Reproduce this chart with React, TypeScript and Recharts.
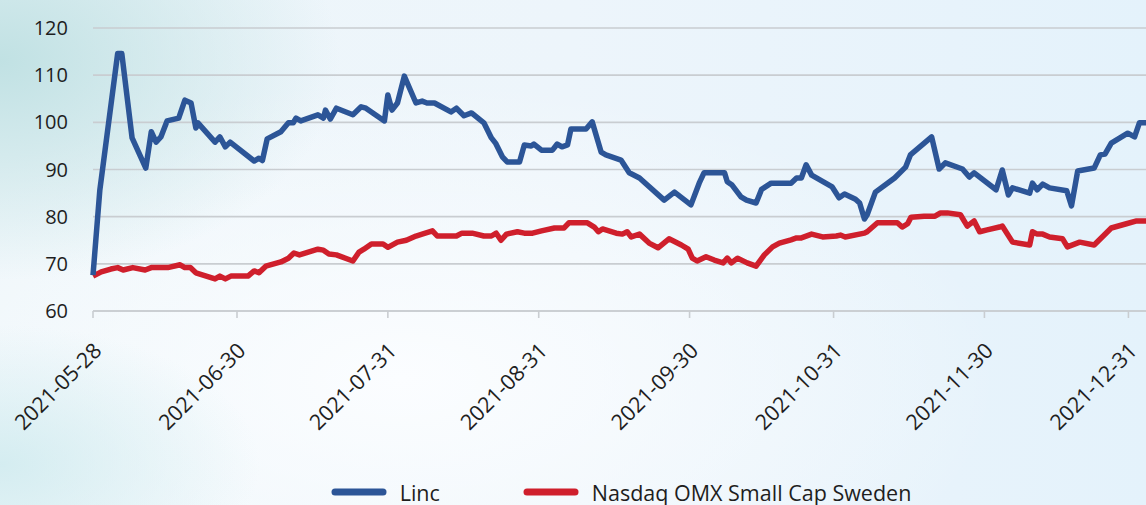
import { LineChart, Line, XAxis, YAxis, CartesianGrid, Legend } from 'recharts';

// x = trading session counted from 2021-05-28
const tickSessions = [0, 21, 43, 65, 87, 108, 130, 151];
const tickLabels = ['2021-05-28', '2021-06-30', '2021-07-31', '2021-08-31', '2021-09-30', '2021-10-31', '2021-11-30', '2021-12-31'];
const yTicks = [60, 70, 80, 90, 100, 110, 120];

const lincSessions = [
  0, 1.0, 3.6, 4.2, 5.7, 7.7, 8.5, 9.2, 9.9, 10.8, 12.5, 13.4, 14.3, 15.0, 15.3, 17.8, 18.5, 19.3, 20.0,
  23.5, 24.2, 24.7, 25.4, 27.4, 28.5, 29.2, 29.6, 30.3, 32.8, 33.6, 33.9, 34.6, 35.5, 37.9, 39.1, 39.8,
  42.5, 43.0, 43.6, 44.4, 45.4, 47.1, 48.0, 48.7, 49.8, 52.2, 53.0, 54.1, 55.2, 57.0, 58.1, 58.7, 59.7,
  60.4, 62.2, 62.9, 63.9, 64.3, 65.4, 67.0, 67.7, 68.4, 69.2, 69.7, 71.9, 72.8, 74.1, 74.8, 77.0, 78.2,
  79.7, 83.3, 84.8, 87.2, 88.4, 89.1, 92.1, 92.5, 93.2, 94.5, 95.3, 96.7, 97.5, 98.9, 101.8, 102.6, 103.3,
  104.0, 104.8, 107.8, 108.8, 109.6, 111.2, 111.8, 112.5, 112.9, 114.1, 116.9, 118.5, 119.2, 122.3, 123.4,
  124.3, 126.8, 127.8, 128.5, 131.7, 132.6, 133.5, 134.1, 136.6, 137.0, 137.7, 138.5, 139.5, 142.0, 142.7,
  143.6, 146.0, 146.9, 147.6, 148.5, 150.9, 151.9, 152.6, 153.6,
];
const lincValues = [
  67.6, 85.7, 114.6, 114.6, 96.7, 90.3, 98.0, 95.8, 96.9, 100.3, 100.9, 104.7, 104.1, 98.8, 99.9, 95.8, 96.9, 94.8, 95.8,
  91.8, 92.4, 91.9, 96.5, 98.0, 99.9, 99.9, 100.9, 100.3, 101.6, 100.9, 102.6, 100.7, 103.0, 101.6, 103.3, 103.0,
  100.3, 105.8, 102.6, 104.1, 109.8, 104.1, 104.5, 104.1, 104.1, 102.2, 103.0, 101.4, 102.0, 99.9, 96.7, 95.6, 92.7,
  91.6, 91.6, 95.2, 95.0, 95.4, 94.1, 94.1, 95.4, 94.8, 95.2, 98.6, 98.6, 100.1, 93.7, 93.1, 92.0, 89.3,
  88.2, 83.5, 85.2, 82.5, 87.1, 89.3, 89.3, 87.4, 86.7, 84.2, 83.5, 82.9, 85.8, 87.1, 87.1, 88.2, 88.2,
  91.0, 88.8, 86.3, 84.0, 84.8, 83.7, 82.9, 79.5, 80.4, 85.2, 88.2, 90.5, 93.1, 96.9, 90.1,
  91.4, 90.1, 88.4, 89.3, 85.7, 89.9, 84.6, 86.1, 85.0, 87.1, 85.7, 86.9, 86.1, 85.5, 82.3,
  89.7, 90.3, 93.1, 93.3, 95.6, 97.7, 96.9, 99.9, 99.9,
];

const omxSessions = [
  0, 1.2, 2.6, 3.6, 4.4, 5.8, 7.6, 8.5, 10.9, 12.7, 13.4, 14.2, 15.0, 17.8, 18.5, 19.3, 20.1, 22.6, 23.5,
  24.2, 25.2, 27.4, 28.5, 29.3, 30.1, 32.8, 33.6, 34.4, 35.5, 37.9, 38.8, 39.5, 40.6, 42.3, 43.0, 44.4,
  45.7, 47.1, 48.0, 49.5, 50.2, 53.0, 53.8, 55.3, 57.0, 58.1, 58.8, 59.5, 60.3, 61.9, 62.9, 64.1, 65.4,
  67.3, 68.7, 69.4, 72.1, 73.1, 73.7, 74.3, 76.3, 77.2, 77.9, 78.5, 79.7, 81.1, 82.4, 84.0, 85.8, 86.8,
  87.4, 88.1, 89.4, 90.6, 91.9, 92.5, 93.1, 94.0, 95.4, 96.7, 97.9, 99.1, 100.1, 101.8, 102.6, 103.3,
  104.8, 106.4, 108.4, 109.0, 109.7, 112.5, 112.9, 114.4, 117.3, 118.0, 118.8, 119.3, 121.2, 122.8, 123.6,
  124.6, 126.5, 127.5, 128.5, 129.3, 130.4, 132.2, 132.6, 134.1, 136.6, 137.0, 137.7, 138.5, 139.5, 141.4,
  142.1, 143.9, 146.0, 148.5, 150.7, 152.2, 153.6,
];
const omxValues = [
  67.4, 68.3, 68.9, 69.2, 68.7, 69.2, 68.7, 69.2, 69.2, 69.8, 69.2, 69.2, 68.1, 66.8, 67.4, 66.8, 67.4, 67.4, 68.5,
  68.1, 69.5, 70.4, 71.2, 72.3, 71.9, 73.1, 72.9, 72.1, 71.9, 70.6, 72.5, 73.1, 74.2, 74.2, 73.5, 74.6,
  75.0, 75.9, 76.3, 77.0, 75.9, 75.9, 76.5, 76.5, 75.9, 75.9, 76.5, 75.0, 76.3, 76.8, 76.5, 76.5, 77.0,
  77.6, 77.6, 78.7, 78.7, 77.8, 76.8, 77.4, 76.5, 76.3, 76.8, 75.7, 76.3, 74.4, 73.4, 75.3, 74.0, 73.1,
  71.2, 70.6, 71.5, 70.8, 70.2, 71.2, 70.2, 71.2, 70.2, 69.5, 71.9, 73.6, 74.4, 75.1, 75.5, 75.5,
  76.3, 75.7, 75.9, 76.1, 75.7, 76.5, 76.8, 78.7, 78.7, 77.8, 78.5, 79.9, 80.1, 80.1, 80.8,
  80.8, 80.4, 78.0, 79.1, 76.8, 77.2, 77.8, 78.0, 74.6, 74.0, 76.8, 76.3, 76.3, 75.7, 75.3,
  73.6, 74.6, 74.0, 77.6, 78.5, 79.1, 79.1,
];

const seriesNames = ['Linc', 'Nasdaq OMX Small Cap Sweden'];
const seriesColors = ['#2c5597', '#cf1f2c'];

const lincData = lincSessions.map((s, i) => ({ session: s, value: lincValues[i] }));
const omxData = omxSessions.map((s, i) => ({ session: s, value: omxValues[i] }));

const FONT = '"Open Sans", "Noto Sans", sans-serif';

const DateTick = (props: any) => {
  const { x, y, payload } = props;
  const label = tickLabels[tickSessions.indexOf(payload.value)] ?? '';
  return (
    <g transform={`translate(${x + 10},${y + 34}) rotate(-45)`}>
      <text x={0} y={0} textAnchor="end" fill="#1e1e1e" fontSize={21.5} fontFamily={FONT}>
        {label}
      </text>
    </g>
  );
};

const renderLegend = () => (
  <div
    style={{
      height: 44,
      paddingLeft: 93,
      boxSizing: 'border-box',
      display: 'flex',
      justifyContent: 'center',
      alignItems: 'center',
      paddingTop: 18,
      fontFamily: FONT,
      fontSize: 21.5,
      color: '#1e1e1e',
    }}
  >
    {seriesNames.map((name, i) => (
      <div key={name} style={{ display: 'flex', alignItems: 'center', marginLeft: i === 0 ? 0 : 83 }}>
        <svg width={56} height={10}>
          <line x1={4} y1={5} x2={52} y2={5} stroke={seriesColors[i]} strokeWidth={7} strokeLinecap="round" />
        </svg>
        <span style={{ marginLeft: 13 }}>{name}</span>
      </div>
    ))}
  </div>
);

export default function App() {
  return (
    <div
      style={{
        position: 'fixed',
        left: 0,
        top: 0,
        width: 1146,
        height: 505,
        overflow: 'hidden',
        background:
          'radial-gradient(ellipse 340px 220px at 0% 12%, rgba(190,224,226,0.95) 0%, rgba(255,255,255,0) 100%), radial-gradient(ellipse 260px 140px at 0% 92%, rgba(205,234,238,0.8) 0%, rgba(255,255,255,0) 100%), radial-gradient(ellipse 600px 300px at 35% 75%, #fbfdff 0%, rgba(251,253,255,0) 100%), linear-gradient(90deg, #eef6fa 0%, #edf5fb 50%, #e4f2fb 100%)',
      }}
    >
      <LineChart width={1149} height={505} margin={{ top: 28, right: 0, bottom: 0, left: 0 }}>
        <CartesianGrid vertical={false} stroke="#c9cdd1" strokeWidth={1.6} />
        <XAxis
          type="number"
          dataKey="session"
          domain={[0, 154]}
          ticks={tickSessions}
          interval={0}
          height={150}
          tick={<DateTick />}
          axisLine={{ stroke: '#c9cdd1', strokeWidth: 1.6 }}
          tickLine={{ stroke: '#c9cdd1', strokeWidth: 1.6 }}
          tickSize={7}
          tickMargin={0}
        />
        <YAxis
          type="number"
          domain={[60, 120]}
          ticks={yTicks}
          width={93}
          axisLine={false}
          tickLine={false}
          tickSize={0}
          tickMargin={25}
          tick={{ fill: '#1e1e1e', fontSize: 20, fontFamily: FONT }}
        />
        <Legend verticalAlign="bottom" height={44} content={renderLegend} />
        <Line
          data={omxData}
          dataKey="value"
          name={seriesNames[1]}
          type="linear"
          stroke={seriesColors[1]}
          strokeWidth={5.5}
          strokeLinejoin="round"
          dot={false}
          isAnimationActive={false}
        />
        <Line
          data={lincData}
          dataKey="value"
          name={seriesNames[0]}
          type="linear"
          stroke={seriesColors[0]}
          strokeWidth={5.5}
          strokeLinejoin="round"
          dot={false}
          isAnimationActive={false}
        />
      </LineChart>
    </div>
  );
}
